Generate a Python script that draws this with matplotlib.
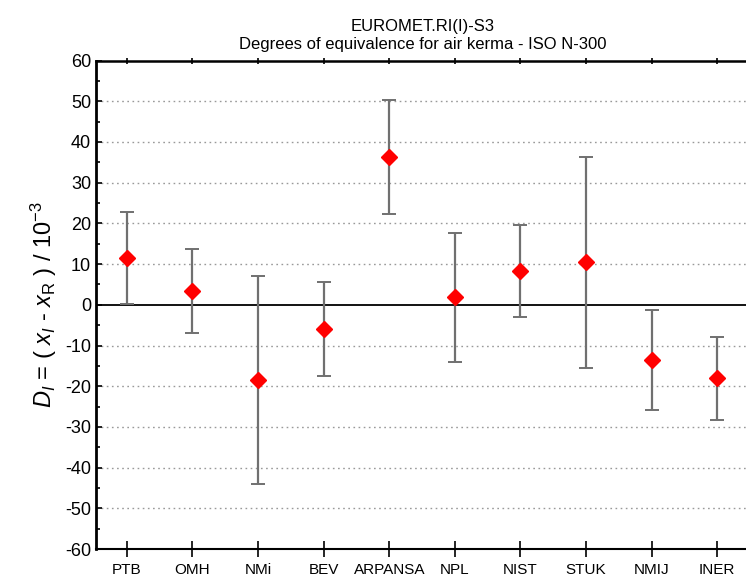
import numpy as np
import matplotlib.pyplot as plt

plt.rcParams['font.family'] = ['Liberation Sans', 'DejaVu Sans']
plt.rcParams['mathtext.fontset'] = 'custom'
plt.rcParams['mathtext.rm'] = 'Liberation Sans'
plt.rcParams['mathtext.it'] = 'Liberation Sans:italic'
plt.rcParams['axes.unicode_minus'] = False

# labs and their degrees of equivalence (D_I) with expanded uncertainty U_I, in 1e-3
labs = ['PTB', 'OMH', 'NMi', 'BEV', 'ARPANSA', 'NPL', 'NIST', 'STUK', 'NMIJ', 'INER']
D = [11.4, 3.4, -18.5, -6.0, 36.2, 1.8, 8.3, 10.4, -13.6, -18.1]
U = [11.3, 10.3, 25.6, 11.6, 14.0, 15.9, 11.3, 26.0, 12.2, 10.2]

fig = plt.figure(figsize=(7.46, 5.77), dpi=100)
ax = fig.add_axes([0.1287, 0.0485, 0.875, 0.8465])

x = np.arange(1, len(labs) + 1)

# grid lines every 10, solid zero line
for g in range(-50, 60, 10):
    if g == 0:
        continue
    ax.axhline(g, color='#999999', lw=1.0, ls=(0, (1.2, 2.5)), zorder=0)
ax.axhline(0, color='black', lw=1.3, zorder=1)

eb = ax.errorbar(x, D, yerr=U, fmt='none', ecolor='#707070', elinewidth=1.6,
                 capsize=5, capthick=1.4, zorder=2)
for cap in eb[1]:
    cap.set_color('#333333')
ax.plot(x, D, ls='none', marker='D', color='red', ms=8, mec='red', zorder=3)

ax.set_xlim(0.53, 10.48)
ax.set_ylim(-60, 60)
ax.set_xticks(x)
ax.set_xticklabels(labs, fontsize=11)
ax.set_yticks(np.arange(-60, 61, 10))
ax.set_yticks(np.arange(-55, 60, 10), minor=True)
ax.tick_params(axis='y', which='major', direction='in', length=4, width=1.2, labelsize=13)
ax.tick_params(axis='y', which='minor', direction='in', length=3, width=1.2)
ax.tick_params(axis='x', which='major', direction='inout', length=12, width=1.2,
               top=True, pad=4)
for t in ax.xaxis.get_major_ticks():
    t.tick2line.set_markersize(4)

ax.spines['right'].set_visible(False)
ax.spines['left'].set_linewidth(2.0)
ax.spines['bottom'].set_linewidth(1.5)
ax.spines['top'].set_linewidth(1.8)

ax.set_ylabel(r'$D_I$ = ( $x_I$ - $x_{\mathrm{R}}$ ) / 10$^{-3}$', fontsize=17, labelpad=4)
ax.set_title('EUROMET.RI(I)-S3\nDegrees of equivalence for air kerma - ISO N-300',
             fontsize=12, pad=8, linespacing=1.3)

fig.savefig('out.png', dpi=100)
